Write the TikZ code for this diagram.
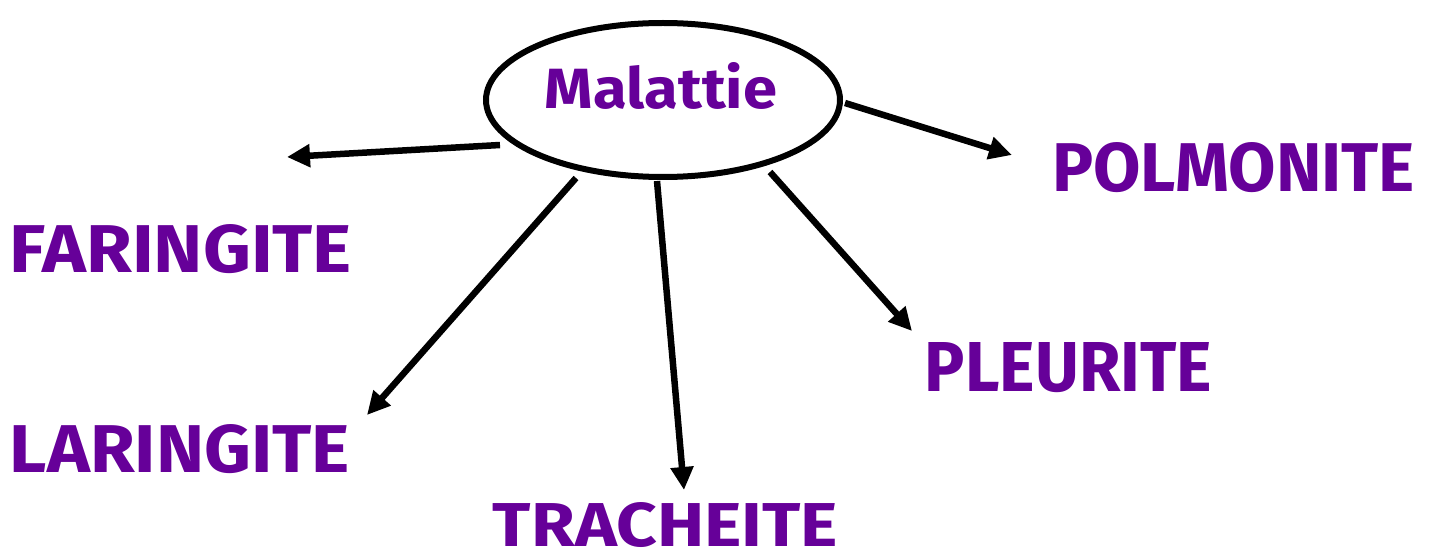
\documentclass[tikz,border=0pt]{standalone}
\usepackage{fontspec}
\setmainfont{Fira Sans}
\usetikzlibrary{arrows.meta,shapes.geometric}
\definecolor{lblpurple}{HTML}{660099}
\newdimen\pxu
\pxu=0.02cm
\newcommand{\fitlbl}[3]{\resizebox{#1\pxu}{#2\pxu}{\bfseries #3}}
\begin{document}
\begin{tikzpicture}[x=0.02cm,y=-0.02cm,
  lbl/.style={inner sep=0pt, text=lblpurple, anchor=center},
  conn/.style={line width=0.13cm, -{Triangle[length=0.46cm,width=0.44cm]}},
  bubble/.style={draw, ellipse, line width=0.12cm, inner sep=0pt, minimum width=354*0.02cm, minimum height=154*0.02cm}]
\useasboundingbox (0,0) rectangle (1431,557);
\node[bubble] (m) at (663,100) {};
\node[lbl] (mt) at (661,85.5) {\fitlbl{232}{46}{Malattie}};
\node[lbl] (far) at (181,249) {\fitlbl{342}{48}{FARINGITE}};
\node[lbl] (lar) at (180,449) {\fitlbl{340}{48}{LARINGITE}};
\node[lbl] (tra) at (665.5,525.5) {\fitlbl{345}{44}{TRACHEITE}};
\node[lbl] (ple) at (1068.5,367.5) {\fitlbl{287}{49}{PLEURITE}};
\node[lbl] (pol) at (1233.5,167.5) {\fitlbl{363}{49}{POLMONITE}};
\coordinate (s1) at (500,145);
\coordinate (e1) at (287,157);
\coordinate (s2) at (576,178);
\coordinate (e2) at (367,415);
\coordinate (s3) at (657,181);
\coordinate (e3) at (684,490);
\coordinate (s4) at (770,172);
\coordinate (e4) at (912,331);
\coordinate (s5) at (845,103);
\coordinate (e5) at (1012,155);
\draw[conn] (s1) -- (e1);
\draw[conn] (s2) -- (e2);
\draw[conn] (s3) -- (e3);
\draw[conn] (s4) -- (e4);
\draw[conn] (s5) -- (e5);
\end{tikzpicture}
\end{document}
